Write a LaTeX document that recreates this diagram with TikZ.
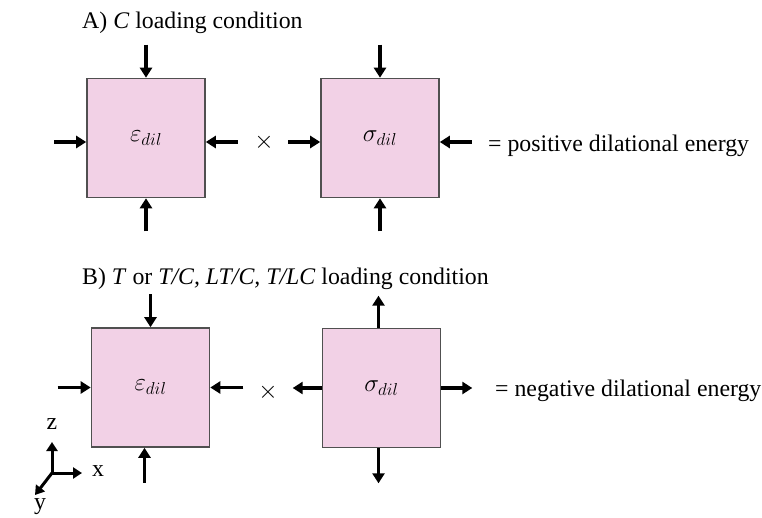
\documentclass[tikz,border=0pt]{standalone}
\usepackage{fontspec}
\setmainfont{Liberation Serif}
\usepackage{xcolor}
\definecolor{cellpink}{RGB}{242, 209, 230}
\definecolor{edgegray}{RGB}{80, 80, 80}
\usetikzlibrary{arrows.meta}

\begin{document}
\begin{tikzpicture}[
  x=1pt, y=1pt,
  cell/.style={draw=edgegray, fill=cellpink, line width=1.6pt, minimum width=118pt, minimum height=119pt, inner sep=0pt, font=\fontsize{26}{30}\selectfont},
  force/.style={-{Triangle[length=10pt,width=12pt]}, line width=3.4pt, black},
  axis/.style={-{Triangle[length=9pt,width=11pt]}, line width=3pt, black},
  txt/.style={font=\fontsize{23.8}{28}\selectfont, inner sep=0pt}
]
\useasboundingbox (0,0) rectangle (762,517);

% A) compression
\node[txt, anchor=base west] (titleA) at (82,488) {A) \textit{C} loading condition};
\node[cell] (aL) at (146,379) {\raisebox{-4pt}{$\varepsilon_{dil}$}};
\node[cell] (aR) at (380,379) {\raisebox{-4pt}{$\sigma_{dil}$}};
\node[txt] (timesA) at (264,375) {$\times$};
\node[txt, anchor=base west] (resA) at (488,365) {= positive dilational energy};

\draw[force] ([yshift=33pt]aL.north) -- (aL.north);
\draw[force] ([yshift=-33pt]aL.south) -- (aL.south);
\draw[force] ([xshift=-32pt,yshift=-4pt]aL.west) -- ([yshift=-4pt]aL.west);
\draw[force] ([xshift=32pt,yshift=-4pt]aL.east) -- ([yshift=-4pt]aL.east);
\draw[force] ([yshift=33pt]aR.north) -- (aR.north);
\draw[force] ([yshift=-33pt]aR.south) -- (aR.south);
\draw[force] ([xshift=-32pt,yshift=-4pt]aR.west) -- ([yshift=-4pt]aR.west);
\draw[force] ([xshift=32pt,yshift=-4pt]aR.east) -- ([yshift=-4pt]aR.east);

% B) tension
\node[txt, anchor=base west] (titleB) at (82,232) {B) \textit{T} or \textit{T/C, LT/C, T/LC} loading condition};
\node[cell] (bL) at (150.5,129.5) {$\varepsilon_{dil}$};
\node[cell] (bR) at (381.5,129) {$\sigma_{dil}$};
\node[txt] (timesB) at (268,125) {$\times$};
\node[txt, anchor=base west] (resB) at (495,121) {= negative dilational energy};

\draw[force] ([yshift=33pt]bL.north) -- (bL.north);
\draw[force] ([yshift=-35pt,xshift=-6pt]bL.south) -- ([xshift=-6pt]bL.south);
\draw[force] ([xshift=-33pt]bL.west) -- (bL.west);
\draw[force] ([xshift=33pt]bL.east) -- (bL.east);
\draw[force] ([xshift=-3pt]bR.north) -- ([yshift=32pt,xshift=-3pt]bR.north);
\draw[force] ([xshift=-3pt]bR.south) -- ([yshift=-35pt,xshift=-3pt]bR.south);
\draw[force] (bR.west) -- ([xshift=-29pt]bR.west);
\draw[force] (bR.east) -- ([xshift=31pt]bR.east);

% axes
\coordinate (o) at (52,44);
\node[txt] (zlab) at (52,93) {z};
\node[txt] (xlab) at (98,46) {x};
\node[txt] (ylab) at (40,10) {y};
\draw[axis] (o) -- (52,75);
\draw[axis] (o) -- (82,44);
\draw[axis] (o) -- (35,22);
\end{tikzpicture}
\end{document}
